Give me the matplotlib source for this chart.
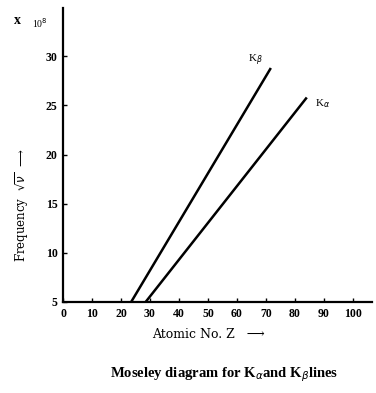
import matplotlib
matplotlib.use("Agg")
import matplotlib.pyplot as plt

# Data
z_beta = [23.5, 71.7]
f_beta = [5, 28.8]
z_alpha = [28.5, 84.1]
f_alpha = [5, 25.8]
x_ticks = [0, 10, 20, 30, 40, 50, 60, 70, 80, 90, 100]
y_ticks = [5, 10, 15, 20, 25, 30]

plt.rcParams['font.family'] = ['Liberation Serif', 'DejaVu Serif']

fig = plt.figure(figsize=(3.76, 3.93), dpi=100)
ax = fig.add_axes([0.1676, 0.2316, 0.821, 0.748])

ax.plot(z_beta, f_beta, color='black', lw=1.8, solid_capstyle='butt')
ax.plot(z_alpha, f_alpha, color='black', lw=1.8, solid_capstyle='butt')

ax.set_xlim(0, 106.5)
ax.set_ylim(5, 34.9)
ax.set_xticks(x_ticks)
ax.set_yticks(y_ticks)
ax.set_xticklabels([str(v) for v in x_ticks], fontsize=8.5, fontweight='bold')
ax.set_yticklabels([str(v) for v in y_ticks], fontsize=8.5, fontweight='bold')
ax.tick_params(direction='in', length=3, width=1, pad=4)
for s in ['top', 'right']:
    ax.spines[s].set_visible(False)
for s in ['left', 'bottom']:
    ax.spines[s].set_linewidth(1.6)

ax.text(z_beta[1] - 8, f_beta[1] + 0.6, r'K$_\beta$', fontsize=8)
ax.text(z_alpha[1] + 3, f_alpha[1] - 0.9, r'K$_\alpha$', fontsize=8)

fig.text(17/376, 1 - 20/393, 'x', fontsize=10, fontweight='bold', ha='center', va='center')
fig.text(40/376, 1 - 23/393, r'10$^8$', fontsize=7, ha='center', va='center')

fig.text(22/376, 1 - 205/393, r'Frequency  $\sqrt{\nu}$  ⟶', rotation=90,
         fontsize=8.5, ha='center', va='center', family=['DejaVu Serif'])
fig.text(208/376, 1 - 334/393, 'Atomic No. Z   ⟶', fontsize=9,
         ha='center', va='center', family=['DejaVu Serif'])
fig.text(224/376, 1 - 375/393, r'Moseley diagram for K$_\alpha$and K$_\beta$lines', fontsize=10.5,
         fontweight='bold', ha='center', va='center')

fig.savefig('out.png', dpi=100)
